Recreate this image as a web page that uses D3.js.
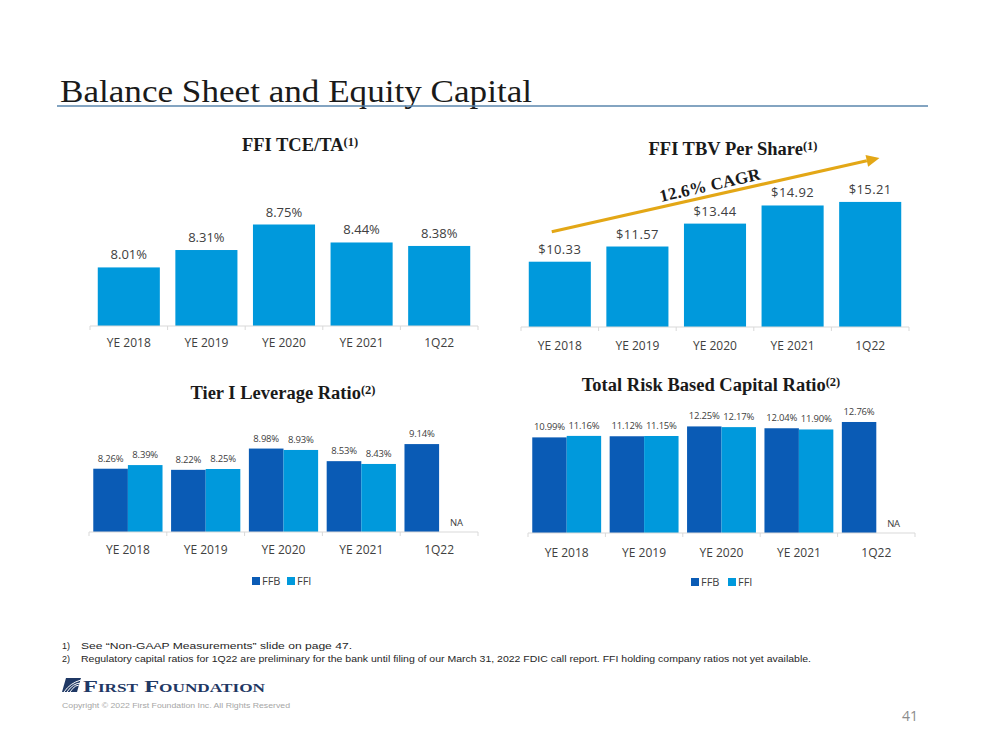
<!DOCTYPE html>
<html><head><meta charset="utf-8">
<script src="https://cdn.jsdelivr.net/npm/d3@7"></script>
<style>
body{margin:0;background:#fff;}
svg{display:block;}
</style></head>
<body>
<svg id="c" width="999" height="750"></svg>
<script>
const categories = ["YE 2018","YE 2019","YE 2020","YE 2021","1Q22"];
const tceTa = [8.01, 8.31, 8.75, 8.44, 8.38];
const tbvPerShare = [10.33, 11.57, 13.44, 14.92, 15.21];
const tier1FFB = [8.26, 8.22, 8.98, 8.53, 9.14];
const tier1FFI = [8.39, 8.25, 8.93, 8.43, null];
const trbcFFB = [10.99, 11.12, 12.25, 12.04, 12.76];
const trbcFFI = [11.16, 11.15, 12.17, 11.90, null];
const seriesNames = ["FFB","FFI"];
const cagrLabel = "12.6% CAGR";

const C_FFB = "#0A5BB5", C_FFI = "#0099DC", C_GOLD = "#E3A716", C_TXT = "#404040", C_AX = "#D9D9D9";
const SANS = "'Open Sans', 'Noto Sans', sans-serif";
const SERIF = "'Liberation Serif', 'DejaVu Serif', serif";

const svg = d3.select("#c");

// Main title
svg.append("text").attr("x",60).attr("y",102)
  .attr("font-family",SERIF).attr("font-size",31).attr("fill","#1a1a1a")
  .attr("textLength",472).attr("lengthAdjust","spacingAndGlyphs")
  .text("Balance Sheet and Equity Capital");
svg.append("line").attr("x1",57).attr("x2",928).attr("y1",106).attr("y2",106)
  .attr("stroke","#5A86AD").attr("stroke-width",1.5);

function title(cx, y, main, sup){
  const t = svg.append("text").attr("x",cx).attr("y",y).attr("text-anchor","middle")
    .attr("font-family",SERIF).attr("font-weight","bold").attr("font-size",18.5).attr("fill","#1a1a1a");
  t.append("tspan").text(main);
  t.append("tspan").attr("font-size",12.5).attr("dy",-5).text(sup);
}

function axis(x, y0, top){
  const g = svg.append("g");
  const r = x.range();
  g.append("line").attr("x1",r[0]).attr("x2",r[1]).attr("y1",y0).attr("y2",y0).attr("stroke",C_AX).attr("stroke-width",1);
  const step = x.step();
  const start = r[0];
  for(let i=0;i<=categories.length;i++){
    g.append("line").attr("x1",start+i*step).attr("x2",start+i*step).attr("y1",y0).attr("y2",y0+4).attr("stroke",C_AX);
  }
  g.selectAll("text.tick").data(categories).join("text")
    .attr("x",d=>x(d)+x.bandwidth()/2).attr("y",top)
    .attr("text-anchor","middle").attr("font-family",SANS).attr("font-size",12).attr("fill",C_TXT)
    .text(d=>d);
}

// ---- Chart 1: FFI TCE/TA
{
  const x = d3.scaleBand().domain(categories).range([90,478]).paddingInner(0.2).paddingOuter(0.1);
  const y = d3.scaleLinear().domain([7,9]).range([326,210]);
  title(300,151,"FFI TCE/TA","(1)");
  svg.append("g").selectAll("rect").data(tceTa).join("rect")
    .attr("x",(d,i)=>x(categories[i])).attr("width",x.bandwidth())
    .attr("y",d=>y(d)).attr("height",d=>y(7)-y(d)).attr("fill",C_FFI);
  svg.append("g").selectAll("text").data(tceTa).join("text")
    .attr("x",(d,i)=>x(categories[i])+x.bandwidth()/2).attr("y",d=>y(d)-8)
    .attr("text-anchor","middle").attr("font-family",SANS).attr("font-size",13).attr("fill",C_TXT)
    .text(d=>d.toFixed(2)+"%");
  axis(x,326,347);
}

// ---- Chart 2: FFI TBV Per Share
{
  const x = d3.scaleBand().domain(categories).range([521,909]).paddingInner(0.2).paddingOuter(0.1);
  const y = d3.scaleLinear().domain([5,16]).range([327,192.25]);
  title(733,155,"FFI TBV Per Share","(1)");
  svg.append("g").selectAll("rect").data(tbvPerShare).join("rect")
    .attr("x",(d,i)=>x(categories[i])).attr("width",x.bandwidth())
    .attr("y",d=>y(d)).attr("height",d=>y(5)-y(d)).attr("fill",C_FFI);
  svg.append("g").selectAll("text").data(tbvPerShare).join("text")
    .attr("x",(d,i)=>x(categories[i])+x.bandwidth()/2).attr("y",d=>y(d)-8)
    .attr("text-anchor","middle").attr("font-family",SANS).attr("font-size",13).attr("fill",C_TXT)
    .attr("letter-spacing",0.4)
    .text(d=>"$"+d.toFixed(2));
  axis(x,327,350);
  // CAGR arrow annotation, anchored to the scales
  const x1 = x(categories[0]) + 23, y1 = y(tbvPerShare[0]) - 30;
  const x2 = x(categories[4]) + x.bandwidth()*0.65, y2 = y(tbvPerShare[4]) - 44;
  const ang = Math.atan2(y2-y1, x2-x1);
  const hl = 13, hw = 6;
  const bx = x2 - hl*Math.cos(ang), by = y2 - hl*Math.sin(ang);
  svg.append("line").attr("x1",x1).attr("y1",y1).attr("x2",bx).attr("y2",by)
    .attr("stroke",C_GOLD).attr("stroke-width",3.2);
  svg.append("polygon").attr("fill",C_GOLD).attr("points",[
    [x2,y2],
    [bx + hw*Math.sin(ang), by - hw*Math.cos(ang)],
    [bx - hw*Math.sin(ang), by + hw*Math.cos(ang)]
  ].map(p=>p.join(",")).join(" "));
  const mx = x1 + (x2-x1)*0.49, my = y1 + (y2-y1)*0.49;
  svg.append("text")
    .attr("transform",`translate(${mx},${my}) rotate(${ang*180/Math.PI}) translate(0,-5)`)
    .attr("text-anchor","middle").attr("font-family",SERIF).attr("font-weight","bold")
    .attr("font-size",17).attr("fill","#1a1a1a").attr("letter-spacing",0.2)
    .text(cagrLabel);
}

function grouped(range, domain, y0, ffb, ffi, cx, titleY, tMain, tickY, legendX, legendY, fs){
  const x0 = d3.scaleBand().domain(categories).range(range).paddingInner(0.11).paddingOuter(0.055);
  const x1 = d3.scaleBand().domain(seriesNames).range([0,x0.bandwidth()]);
  const y = d3.scaleLinear().domain(domain).range([y0[0],y0[1]]);
  title(cx,titleY,tMain,"(2)");
  const rows = categories.map((c,i)=>({c, vals:[{s:"FFB",v:ffb[i]},{s:"FFI",v:ffi[i]}]}));
  const g = svg.append("g");
  const grp = g.selectAll("g").data(rows).join("g").attr("transform",d=>`translate(${x0(d.c)},0)`);
  grp.selectAll("rect").data(d=>d.vals.filter(v=>v.v!=null)).join("rect")
    .attr("x",d=>x1(d.s)).attr("width",x1.bandwidth())
    .attr("y",d=>y(d.v)).attr("height",d=>y(domain[0])-y(d.v))
    .attr("fill",d=>d.s==="FFB"?C_FFB:C_FFI);
  grp.selectAll("text").data(d=>d.vals).join("text")
    .attr("x",d=>x1(d.s)+x1.bandwidth()/2)
    .attr("y",d=>d.v!=null ? y(d.v)-7 : y(domain[0])-6)
    .attr("text-anchor","middle").attr("font-family",SANS).attr("font-size",fs).attr("fill",C_TXT)
    .attr("letter-spacing",-0.2)
    .text(d=>d.v!=null ? d.v.toFixed(2)+"%" : "NA");
  axis(x0,y0[0],tickY);
  // legend
  const lg = svg.append("g");
  seriesNames.forEach((s,i)=>{
    const lx = legendX[i];
    lg.append("rect").attr("x",lx).attr("y",legendY-8).attr("width",8).attr("height",8)
      .attr("fill",s==="FFB"?C_FFB:C_FFI);
    lg.append("text").attr("x",lx+10).attr("y",legendY).attr("font-family",SANS)
      .attr("font-size",11).attr("fill",C_TXT).text(s);
  });
}

grouped([89,478],[6,10],[532,420],tier1FFB,tier1FFI,283,399,"Tier I Leverage Ratio",554,[252,287],585,9.5);
grouped([528,915],[0,14],[533,411.2],trbcFFB,trbcFFI,711,391,"Total Risk Based Capital Ratio",557,[691,728],586,9.5);

// Footnotes
const FN = "'Liberation Sans Narrow', 'Liberation Sans', sans-serif";
const fn = [["1)","See \u201CNon-GAAP Measurements\u201D slide on page 47.",352],
            ["2)","Regulatory capital ratios for 1Q22 are preliminary for the bank until filing of our March 31, 2022 FDIC call report. FFI holding company ratios not yet available.",811]];
fn.forEach((f,i)=>{
  const yy = 649 + i*13;
  svg.append("text").attr("x",62).attr("y",yy).attr("font-family",FN).attr("font-size",9).attr("fill","#262626").text(f[0]);
  svg.append("text").attr("x",81).attr("y",yy).attr("font-family",FN).attr("font-size",9).attr("fill","#262626")
    .attr("textLength",f[2]-81).attr("lengthAdjust","spacingAndGlyphs").text(f[1]);
});

// Logo
{
  const lgG = svg.append("g");
  lgG.append("polygon").attr("points","66,678 81,678 77,692 62,692").attr("fill","#1F3864");
  [0,1,2].forEach(k=>{
    lgG.append("path").attr("d",`M${64+k*3},${692} Q${70+k*3},${683} ${81},${680+k*3}`)
      .attr("stroke","#fff").attr("stroke-width",1).attr("fill","none");
  });
  lgG.append("text").attr("x",83).attr("y",692).attr("font-family",SERIF).attr("font-weight","bold")
    .attr("font-size",17).attr("font-variant","small-caps").attr("fill","#1F3864")
    .attr("textLength",182).attr("lengthAdjust","spacingAndGlyphs").text("First Foundation");
  svg.append("text").attr("x",62).attr("y",708).attr("font-family",FN).attr("font-size",7.5).attr("fill","#A6A6A6")
    .attr("textLength",228).attr("lengthAdjust","spacingAndGlyphs")
    .text("Copyright \u00A9 2022 First Foundation Inc. All Rights Reserved");
  svg.append("text").attr("x",918).attr("y",721).attr("text-anchor","end").attr("font-family",SANS)
    .attr("font-size",14).attr("fill","#8C8C8C").text("41");
}
</script>
</body></html>
